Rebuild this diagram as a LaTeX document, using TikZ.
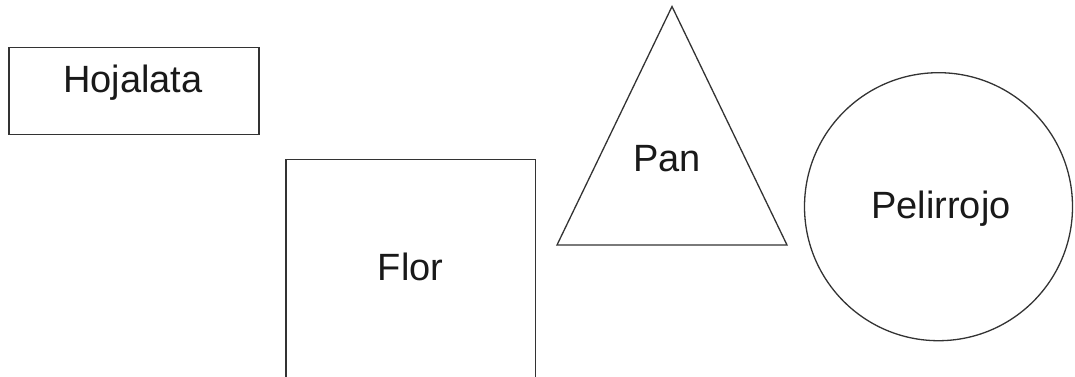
\documentclass[tikz,border=0pt]{standalone}
\usepackage{fontspec}
\setmainfont{Liberation Sans}
\begin{document}
\begin{tikzpicture}[x=1pt,y=-1pt,
  shapeline/.style={draw=black!80, line width=1.3pt},
  lbl/.style={anchor=base, inner sep=0pt, font=\fontsize{38}{40}\selectfont, text=black!90}]
\useasboundingbox (0,0) rectangle (1075,377);
\clip (0,0) rectangle (1075,377);
% Hojalata rectangle
\draw[shapeline] (9,47.5) rectangle (259,134.5);
\node[lbl] (hojalata) at (133,93) {Hojalata};
% Flor square
\draw[shapeline] (286,382) -- (286,159.5) -- (535.5,159.5) -- (535.5,382);
\node[lbl] (flor) at (410.5,280) {Flor};
% Pan triangle
\draw[shapeline, line join=miter] (672,6.5) -- (787,245) -- (557,245) -- cycle;
\node[lbl] (pan) at (667,171) {Pan};
% Pelirrojo circle
\draw[shapeline] (938.5,206.7) circle [radius=134];
\node[lbl] (pelirrojo) at (941,218.3) {Pelirrojo};
\end{tikzpicture}
\end{document}
